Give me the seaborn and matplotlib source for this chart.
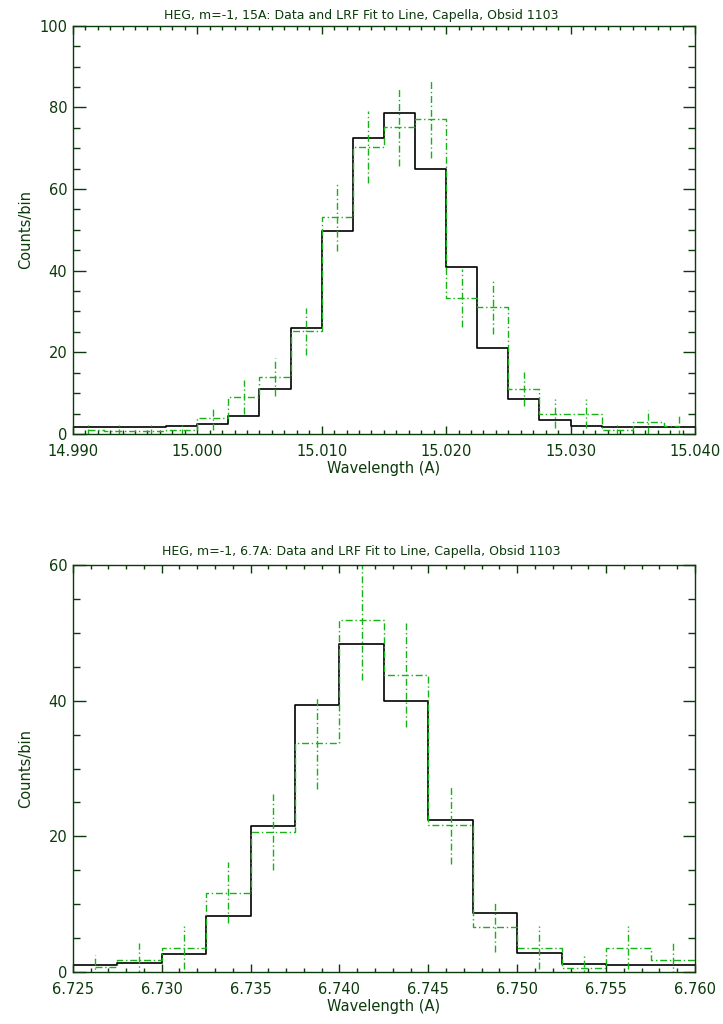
import matplotlib
matplotlib.use("Agg")
import matplotlib.pyplot as plt
from matplotlib.ticker import MultipleLocator, FormatStrFormatter
import seaborn as sns
import numpy as np
import pandas as pd

# ---- data ------------------------------------------------------------------
# top panel: 15 A line, 20 bins of 0.0025 A starting at 14.990
top_start = 14.990
top_width = 0.0025
top_fit = [1.6, 1.6, 1.8, 2.0, 2.5, 4.4, 11.0, 26.0, 49.8, 72.6,
           78.6, 65.0, 40.9, 21.0, 8.5, 3.4, 2.0, 1.7, 1.7, 1.7]
top_data = [1.0, 0.8, 0.8, 0.9, 3.8, 9.0, 13.9, 25.1, 53.1, 70.3,
            75.2, 77.2, 33.3, 31.2, 11.0, 5.0, 5.0, 1.0, 2.9, 2.0]
top_err = [1.4, 1.3, 1.3, 1.4, 2.9, 4.2, 4.6, 5.7, 8.4, 8.9,
           9.5, 9.5, 7.0, 6.8, 4.1, 3.5, 3.5, 1.4, 3.0, 2.7]
top_title = "HEG, m=-1, 15A: Data and LRF Fit to Line, Capella, Obsid 1103"

# bottom panel: 6.7 A line, 14 bins of 0.0025 A starting at 6.725
bot_start = 6.725
bot_width = 0.0025
bot_fit = [1.0, 1.3, 2.7, 8.2, 21.5, 39.3, 48.4, 40.0, 22.4, 8.7,
           2.8, 1.2, 1.0, 1.0]
bot_data = [0.7, 1.7, 3.6, 11.7, 20.7, 33.8, 51.9, 43.8, 21.7, 6.7,
            3.6, 0.6, 3.6, 1.7]
bot_err = [1.8, 2.5, 3.2, 4.5, 5.6, 6.8, 8.8, 7.7, 5.8, 3.8,
           3.2, 1.9, 3.2, 2.6]
bot_title = "HEG, m=-1, 6.7A: Data and LRF Fit to Line, Capella, Obsid 1103"

DARK = "#0b3a0b"
GREEN = "#16b316"
DASHDOT = (0, (5, 2, 1, 2))

sns.set_style("ticks")
plt.rcParams["font.family"] = ["DejaVu Sans"]

fig = plt.figure(figsize=(7.23, 10.24), dpi=100)
ax_top = fig.add_axes([0.1006, 0.5762, 0.8607, 0.3987])
ax_bot = fig.add_axes([0.1006, 0.0508, 0.8607, 0.3974])


def draw_panel(ax, start, width, fit, data, err, title, xlim, ylim,
               xmajor, ymajor, title_y, half_last):
    n = len(fit)
    edges = start + width * np.arange(n + 1)
    centers = start + width * (np.arange(n) + 0.5)

    # LRF fit: full histogram over every bin
    fit_df = pd.DataFrame({"wl": edges, "counts": list(fit) + [fit[-1]]})
    sns.lineplot(data=fit_df, x="wl", y="counts", ax=ax, color="black",
                 lw=1.2, drawstyle="steps-post", estimator=None, sort=False)

    # data: IDL psym=10 style, first bin drawn from its centre
    last_x = centers[-1] if half_last else edges[-1]
    data_x = [centers[0]] + list(edges[1:n]) + [last_x]
    data_df = pd.DataFrame({"wl": data_x, "counts": list(data) + [data[-1]]})
    sns.lineplot(data=data_df, x="wl", y="counts", ax=ax, color=GREEN,
                 lw=1.0, linestyle=DASHDOT, drawstyle="steps-post",
                 estimator=None, sort=False)
    d = np.array(data)
    e = np.array(err)
    ax.vlines(centers, d - e, d + e, colors=GREEN, lw=1.0, linestyles=DASHDOT)

    ax.set_xlim(*xlim)
    ax.set_ylim(*ylim)
    ax.xaxis.set_major_locator(MultipleLocator(xmajor))
    ax.xaxis.set_minor_locator(MultipleLocator(0.001))
    ax.xaxis.set_major_formatter(FormatStrFormatter("%.3f"))
    ax.yaxis.set_major_locator(MultipleLocator(ymajor))
    ax.yaxis.set_minor_locator(MultipleLocator(5))

    ax.tick_params(axis="both", which="both", direction="in", top=True,
                   right=True, colors=DARK, labelcolor=DARK, labelsize=10.5)
    ax.tick_params(axis="x", which="major", length=5.8, width=1.0, pad=7)
    ax.tick_params(axis="x", which="minor", length=3.1, width=1.0)
    ax.tick_params(axis="y", which="major", length=9.0, width=1.0, pad=4)
    ax.tick_params(axis="y", which="minor", length=4.7, width=1.0)
    for sp in ax.spines.values():
        sp.set_color(DARK)
        sp.set_linewidth(1.0)

    ax.set_xlabel("Wavelength (A)", color=DARK, fontsize=10.5, labelpad=2)
    ax.set_ylabel("Counts/bin", color=DARK, fontsize=10.5)
    ax.yaxis.set_label_coords(-0.064, 0.5)
    fig.text(0.5, title_y, title, ha="center", va="center",
             color=DARK, fontsize=9)


draw_panel(ax_top, top_start, top_width, top_fit, top_data, top_err,
           top_title, (14.990, 15.040), (0, 100), 0.010, 20,
           1 - 15 / 1024, True)
draw_panel(ax_bot, bot_start, bot_width, bot_fit, bot_data, bot_err,
           bot_title, (6.725, 6.760), (0, 60), 0.005, 20,
           1 - 552 / 1024, False)

fig.savefig("out.png", dpi=100, facecolor="white")
